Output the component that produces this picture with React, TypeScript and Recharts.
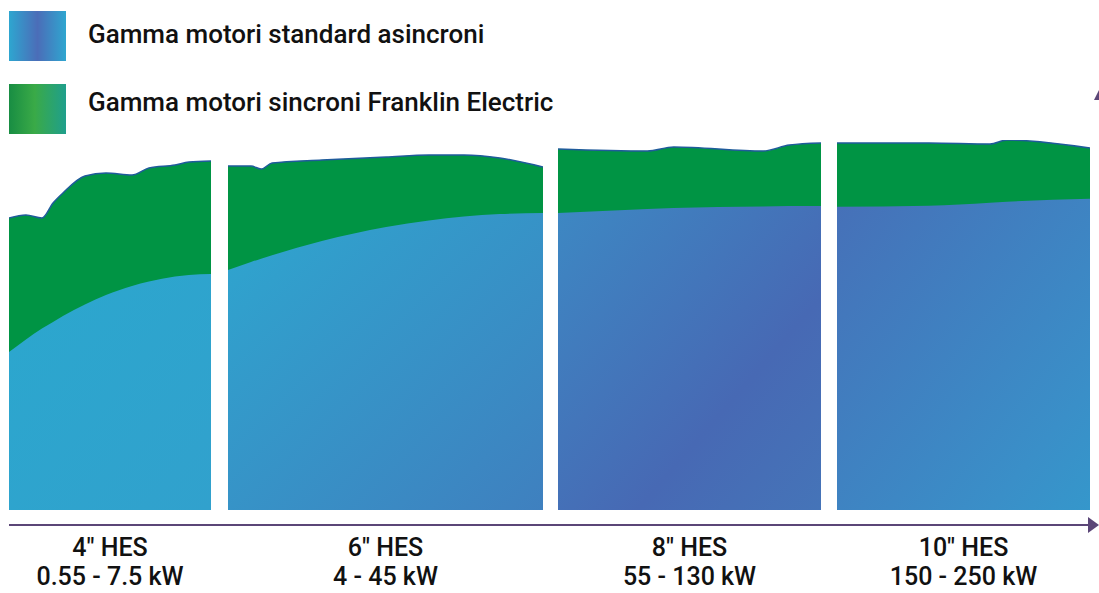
import React from 'react';
import { AreaChart, Area, XAxis, YAxis } from 'recharts';

// Bottom labels, one per motor size
const sizeLabels = ['4″ HES', '6″ HES', '8″ HES', '10″ HES'];
const powerLabels = ['0.55 - 7.5 kW', '4 - 45 kW', '55 - 130 kW', '150 - 250 kW'];

// position inside each band (0-100) and the relative height of each range
const hes4Pos = [0, 8.4, 16.3, 21.8, 26.7, 37.6, 48, 60.9, 69.3, 82.2, 89.1, 100];
const hes4Std = [158, 170.5, 181.5, 188, 194, 205.5, 215, 224, 228.5, 233.5, 235, 236];
const hes4Sync = [292, 295, 292, 307, 317, 334, 337, 335, 342, 345, 348, 349];

const hes6Pos = [0, 7.3, 10.5, 14, 29.8, 50.2, 63.8, 74.9, 86.3, 100];
const hes6Std = [240, 248, 251.3, 254.8, 268.9, 282.9, 289.5, 293.4, 295.9, 297];
const hes6Sync = [344, 344, 341, 347, 350, 353, 355, 355, 352, 343];

const hes8Pos = [0, 34, 44, 78, 88, 100];
const hes8Std = [297, 301, 302, 303.5, 304, 304];
const hes8Sync = [361, 359, 363, 359, 365, 367];

const hes10Pos = [0, 36.4, 60.5, 67.2, 100];
const hes10Std = [304, 305, 308, 309, 312];
const hes10Sync = [368, 368, 367, 371, 363];

const build = (pos: number[], std: number[], sync: number[]) =>
  pos.map((p, i) => ({ pos: p, standard: std[i], sincroni: sync[i] }));

const panels = [
  { left: 9, width: 202, data: build(hes4Pos, hes4Std, hes4Sync), stops: [['0%', '#2ba7ce'], ['100%', '#31a1cd']] },
  { left: 228, width: 315, data: build(hes6Pos, hes6Std, hes6Sync), stops: [['0%', '#2ea6cf'], ['100%', '#3f80bf']] },
  { left: 558, width: 263, data: build(hes8Pos, hes8Std, hes8Sync), stops: [['0%', '#3d88c3'], ['65%', '#4769b4'], ['100%', '#4574b8']] },
  { left: 837, width: 253, data: build(hes10Pos, hes10Std, hes10Sync), stops: [['0%', '#4670b8'], ['80%', '#3a8fc8'], ['100%', '#3597cb']] },
];

const FONT = 'Roboto, "Noto Sans", sans-serif';

const BandTick = ({ x, y, index }: any) => (
  <text x={x} textAnchor="middle" fontFamily={FONT} fontWeight={500} fontSize={25} fill="#111">
    <tspan x={x} y={y + 46}>{sizeLabels[index]}</tspan>
    <tspan x={x} y={y + 75}>{powerLabels[index]}</tspan>
  </text>
);

const Swatch = ({ top, bg }: { top: number; bg: string }) => (
  <div style={{ position: 'absolute', left: 9, top, width: 57, height: 50, background: bg }} />
);

export default function App() {
  return (
    <div style={{ position: 'absolute', left: 0, top: 0, width: 1099, height: 593, background: '#fff', overflow: 'hidden' }}>
      <Swatch top={11} bg="linear-gradient(90deg, #2ea6d0 0%, #4b6db8 50%, #2fa6d0 100%)" />
      <Swatch top={84} bg="linear-gradient(90deg, #188d43 0%, #3aaa47 45%, #1f9f8c 100%)" />
      <div style={{ position: 'absolute', left: 88, top: 19, fontFamily: FONT, fontWeight: 500, fontSize: 26, color: '#111', whiteSpace: 'nowrap' }}>
        Gamma motori standard asincroni
      </div>
      <div style={{ position: 'absolute', left: 88, top: 87, fontFamily: FONT, fontWeight: 500, fontSize: 26, color: '#111', whiteSpace: 'nowrap' }}>
        Gamma motori sincroni Franklin Electric
      </div>

      {panels.map((p, i) => (
        <div key={i} style={{ position: 'absolute', left: p.left, top: 140 }}>
          <AreaChart width={p.width} height={453} data={p.data} margin={{ top: 0, right: 0, bottom: 0, left: 0 }}>
            <defs>
              <linearGradient id={`std${i}`} x1="0" y1="0" x2="1" y2="1">
                {p.stops.map(([o, c]) => (
                  <stop key={o} offset={o} stopColor={c} />
                ))}
              </linearGradient>
            </defs>
            <XAxis
              dataKey="pos"
              type="number"
              domain={[0, 100]}
              ticks={[50]}
              height={83}
              axisLine={false}
              tickLine={false}
              tickSize={0}
              tickMargin={0}
              interval={0}
              tick={(props: any) => <BandTick {...props} index={i} />}
            />
            <YAxis hide domain={[0, 370]} />
            <Area
              type="monotone"
              dataKey="sincroni"
              stroke="#1f5b9b"
              strokeWidth={1.5}
              fill="#009444"
              fillOpacity={1}
              isAnimationActive={false}
            />
            <Area
              type="monotone"
              dataKey="standard"
              stroke="none"
              fill={`url(#std${i})`}
              fillOpacity={1}
              isAnimationActive={false}
            />
          </AreaChart>
        </div>
      ))}

      <svg style={{ position: 'absolute', left: 0, top: 0 }} width={1099} height={593}>
        <line x1={9} y1={525} x2={1090} y2={525} stroke="#5b4677" strokeWidth={2} />
        <polygon points="1088,517 1099,525 1088,533" fill="#5b4677" />
        <polygon points="1094,100 1099,90 1099,100" fill="#5b4677" />
      </svg>
    </div>
  );
}
